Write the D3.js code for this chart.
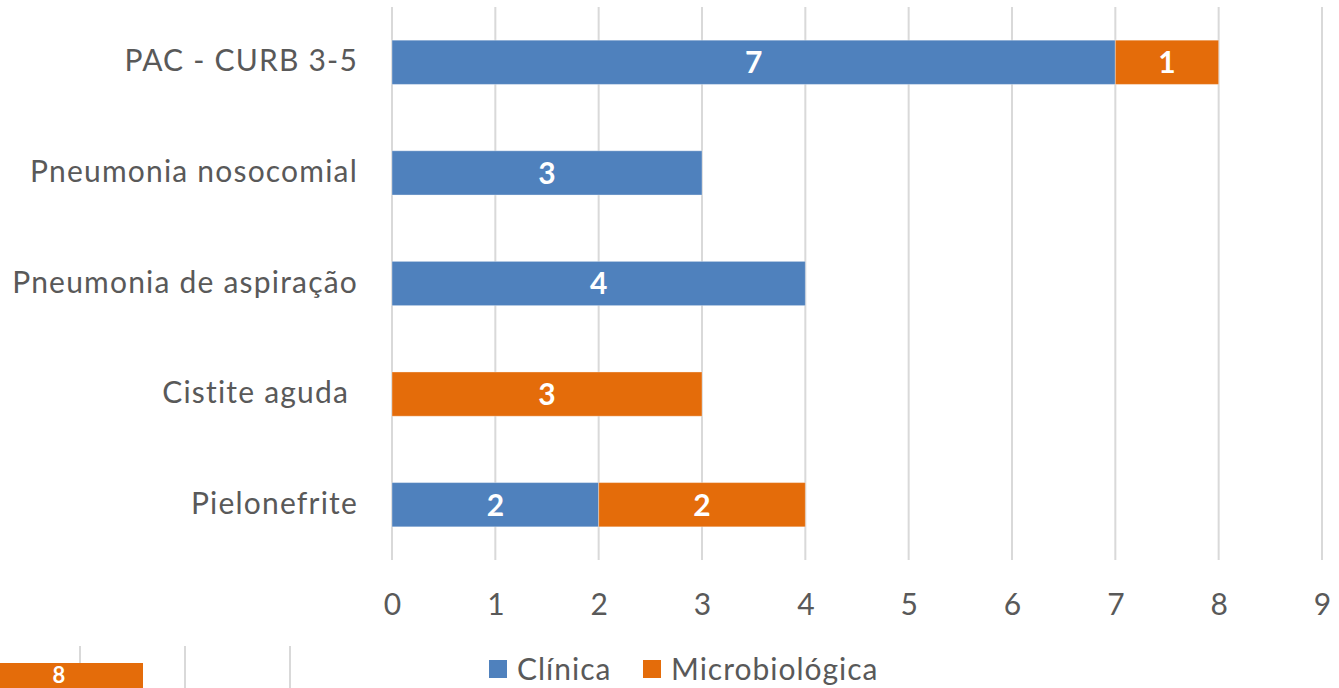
<!DOCTYPE html>
<html>
<head>
<meta charset="utf-8">
<script src="https://cdn.jsdelivr.net/npm/d3@7"></script>
<style>
  html, body { margin: 0; padding: 0; background: #ffffff; }
  svg { display: block; }
  text { font-family: Lato, "Open Sans", sans-serif; }
</style>
</head>
<body>
<svg id="chart" width="1339" height="688"></svg>
<script>
// Diagnoses (top to bottom) and counts per type of diagnosis
const categories = ["PAC - CURB 3-5", "Pneumonia nosocomial", "Pneumonia de aspiração", "Cistite aguda ", "Pielonefrite"];
const clinica = [7, 3, 4, 0, 2];
const microbiologica = [1, 0, 0, 3, 2];
const seriesNames = ["Clínica", "Microbiológica"];
const xTicks = [0, 1, 2, 3, 4, 5, 6, 7, 8, 9];

// Partial segment of a neighbouring chart visible at the bottom-left edge
const fragmentValue = [8];
const fragmentTicks = [1, 2, 3];

const colors = { "Clínica": "#4f81bd", "Microbiológica": "#e46c0a" };
const textColor = "#595959";
const gridColor = "#d9d9d9";

const svg = d3.select("#chart");

const margin = { left: 392, right: 17, top: 7, bottom: 128 };
const W = 1339, H = 688;

const x = d3.scaleLinear().domain([0, 9]).range([margin.left, W - margin.right]);
const y = d3.scaleBand().domain(categories).range([margin.top, H - margin.bottom]).paddingInner(0.6).paddingOuter(0.3);

// Vertical gridlines
svg.append("g")
  .selectAll("line")
  .data(xTicks)
  .join("line")
  .attr("x1", d => x(d)).attr("x2", d => x(d))
  .attr("y1", margin.top).attr("y2", H - margin.bottom)
  .attr("stroke", gridColor).attr("stroke-width", 2);

// Stacked data
const rows = categories.map((c, i) => ({ cat: c, "Clínica": clinica[i], "Microbiológica": microbiologica[i] }));
const stacked = d3.stack().keys(seriesNames)(rows);

const layers = svg.append("g")
  .selectAll("g")
  .data(stacked)
  .join("g")
  .attr("fill", d => colors[d.key]);

layers.selectAll("rect")
  .data(d => d.filter(s => s[1] - s[0] > 0))
  .join("rect")
  .attr("x", d => x(d[0]))
  .attr("width", d => x(d[1]) - x(d[0]))
  .attr("y", d => y(d.data.cat))
  .attr("height", y.bandwidth())
  .attr("stroke", "#ffffff").attr("stroke-opacity", 0.35).attr("stroke-width", 1);

// Value labels inside segments
layers.selectAll("text")
  .data(d => d.filter(s => s[1] - s[0] > 0))
  .join("text")
  .attr("x", d => (x(d[0]) + x(d[1])) / 2)
  .attr("y", d => y(d.data.cat) + y.bandwidth() / 2)
  .attr("dy", "0.36em")
  .attr("text-anchor", "middle")
  .attr("fill", "#ffffff")
  .attr("font-weight", "bold")
  .attr("font-size", 30)
  .text(d => d[1] - d[0]);

// Category labels
const yAxis = svg.append("g")
  .attr("transform", `translate(${margin.left - 34},0)`)
  .call(d3.axisLeft(y).tickSize(0).tickPadding(0));
yAxis.select(".domain").remove();
yAxis.selectAll("text")
  .attr("font-size", 30)
  .attr("letter-spacing", 1.2)
  .attr("fill", textColor)
  .attr("dy", "0.3em")
  .style("white-space", "pre");

// X tick labels
const xAxis = svg.append("g")
  .attr("transform", `translate(0,${H - margin.bottom + 34})`)
  .call(d3.axisBottom(x).tickValues(xTicks).tickSize(0).tickPadding(0).tickFormat(d3.format("d")));
xAxis.select(".domain").remove();
xAxis.selectAll("text")
  .attr("font-size", 30)
  .attr("fill", textColor)
  .attr("dy", "0.7em");

// Legend
const legend = svg.append("g").attr("transform", "translate(489,669)");
const legendX = [0, 154];
seriesNames.forEach((name, i) => {
  const g = legend.append("g").attr("transform", `translate(${legendX[i]},0)`);
  g.append("rect").attr("x", 0).attr("y", -9).attr("width", 18).attr("height", 18).attr("fill", colors[name]);
  g.append("text").attr("x", 28).attr("y", 0).attr("dy", "0.36em")
    .attr("font-size", 30).attr("letter-spacing", 1).attr("fill", textColor).text(name);
});

// Fragment of the adjacent chart at the lower-left edge
const xf = d3.scaleLinear().domain([0, 1]).range([-25, 80]);
const frag = svg.append("g");
frag.selectAll("line")
  .data(fragmentTicks)
  .join("line")
  .attr("x1", d => xf(d)).attr("x2", d => xf(d))
  .attr("y1", 646).attr("y2", H)
  .attr("stroke", gridColor).attr("stroke-width", 2);
frag.selectAll("rect")
  .data(fragmentValue)
  .join("rect")
  .attr("x", xf(0) - 1).attr("y", 663)
  .attr("width", xf(1.6) - xf(0) + 1).attr("height", 30)
  .attr("fill", colors["Microbiológica"]);
frag.selectAll("text")
  .data(fragmentValue)
  .join("text")
  .attr("x", (xf(0) + xf(1.6)) / 2)
  .attr("y", 675)
  .attr("dy", "0.36em")
  .attr("text-anchor", "middle")
  .attr("fill", "#ffffff").attr("font-weight", "bold").attr("font-size", 22)
  .text(d => d);
</script>
</body>
</html>
